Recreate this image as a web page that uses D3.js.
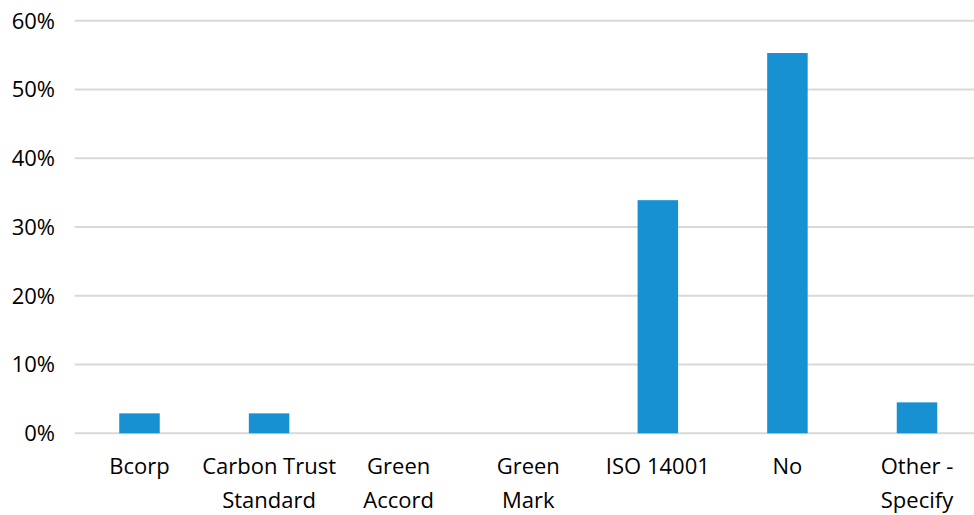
<!DOCTYPE html>
<html lang="en">
<head>
    <meta charset="UTF-8">
    <title>Certification bar chart</title>
    <script src="https://d3js.org/d3.v7.min.js"></script>
    <style>
        body { margin: 0; background: #fff; }
        text { font-family: "Open Sans", sans-serif; fill: #000; }
    </style>
</head>
<body>
    <script>
        // data
        const categories = ["Bcorp", "Carbon Trust Standard", "Green Accord", "Green Mark", "ISO 14001", "No", "Other - Specify"];
        const labelLines = [["Bcorp"], ["Carbon Trust", "Standard"], ["Green", "Accord"], ["Green", "Mark"], ["ISO 14001"], ["No"], ["Other -", "Specify"]];
        const values = [0.029, 0.029, 0, 0, 0.339, 0.553, 0.045];
        const yTicks = [0, 0.1, 0.2, 0.3, 0.4, 0.5, 0.6];

        const width = 974, height = 515;
        const svg = d3.select("body").append("svg")
            .attr("width", width)
            .attr("height", height);

        const x = d3.scaleBand()
            .domain(categories)
            .range([74.7, 981.8])
            .paddingInner(0.6875)
            .paddingOuter(0.34375);

        const y = d3.scaleLinear()
            .domain([0, 0.6])
            .range([433.3, 20.7]);

        // gridlines
        svg.append("g")
            .selectAll("line")
            .data(yTicks)
            .enter()
            .append("line")
            .attr("x1", 74.7)
            .attr("x2", width)
            .attr("y1", d => y(d))
            .attr("y2", d => y(d))
            .attr("stroke", "#d9d9d9")
            .attr("stroke-width", 2);

        // y tick labels
        svg.append("g")
            .selectAll("text")
            .data(yTicks)
            .enter()
            .append("text")
            .attr("x", 55)
            .attr("y", d => y(d))
            .attr("dy", "0.36em")
            .attr("text-anchor", "end")
            .style("font-size", "22px")
            .text(d => d3.format(".0%")(d));

        // bars
        svg.append("g")
            .selectAll("rect")
            .data(values)
            .enter()
            .append("rect")
            .attr("x", (d, i) => x(categories[i]))
            .attr("width", x.bandwidth())
            .attr("y", d => y(d))
            .attr("height", d => y(0) - y(d))
            .attr("fill", "#1791d2");

        // category labels, split on two lines like the original
        const labels = svg.append("g")
            .selectAll("text")
            .data(categories)
            .enter()
            .append("text")
            .attr("text-anchor", "middle")
            .attr("x", d => x(d) + x.bandwidth() / 2)
            .attr("y", 466)
            .style("font-size", "22px");

        labels.each(function (d, i) {
            const t = d3.select(this);
            labelLines[i].forEach((line, k) => {
                t.append("tspan")
                    .attr("x", x(d) + x.bandwidth() / 2)
                    .attr("dy", k === 0 ? "0.36em" : 34)
                    .text(line);
            });
        });
    </script>
</body>
</html>
